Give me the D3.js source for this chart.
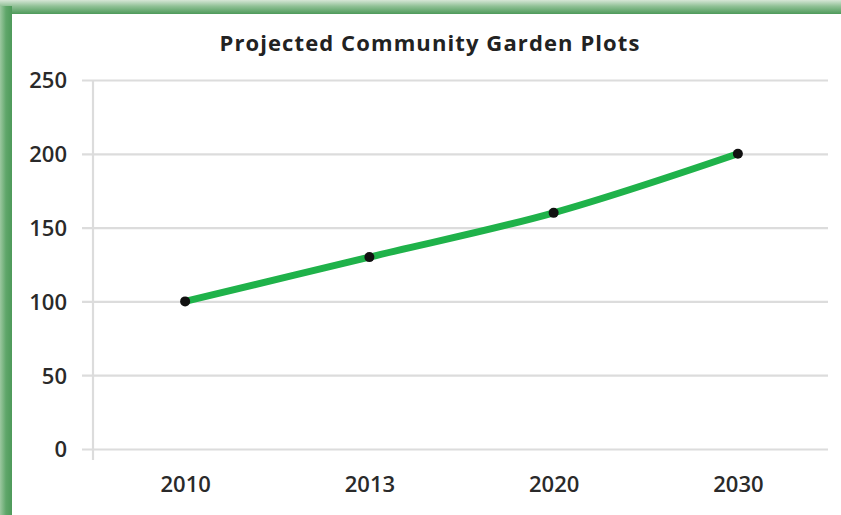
<!DOCTYPE html>
<html>
<head>
<meta charset="utf-8">
<script src="https://cdn.jsdelivr.net/npm/d3@7"></script>
<style>
  html, body { margin: 0; padding: 0; background: #fff; }
  svg { display: block; }
  text { font-family: "Open Sans", Lato, sans-serif; }
</style>
</head>
<body>
<svg id="chart" width="841" height="515"></svg>
<script>
// Chart data
const years = ["2010", "2013", "2020", "2030"];
const plots = [100, 130, 160, 200];
const yTicks = [0, 50, 100, 150, 200, 250];
const title = "Projected Community Garden Plots";

const svg = d3.select("#chart");
const W = 841, H = 515;
const margin = { top: 80, right: 11, bottom: 66, left: 93 };
const plotW = W - margin.left - margin.right;
const plotH = H - margin.top - margin.bottom;

// Green frame along the top and left edges
const defs = svg.append("defs");
const gTop = defs.append("linearGradient").attr("id", "frameTop")
  .attr("x1", 0).attr("y1", 0).attr("x2", 0).attr("y2", 1);
gTop.append("stop").attr("offset", "0%").attr("stop-color", "#d6e6d6");
gTop.append("stop").attr("offset", "45%").attr("stop-color", "#8fc095");
gTop.append("stop").attr("offset", "100%").attr("stop-color", "#4e9a5a");
const gLeft = defs.append("linearGradient").attr("id", "frameLeft")
  .attr("x1", 0).attr("y1", 0).attr("x2", 1).attr("y2", 0);
gLeft.append("stop").attr("offset", "0%").attr("stop-color", "#9cc8a0");
gLeft.append("stop").attr("offset", "50%").attr("stop-color", "#5fa66a");
gLeft.append("stop").attr("offset", "100%").attr("stop-color", "#4e9a5a");

svg.append("rect").attr("x", 0).attr("y", 0).attr("width", W).attr("height", 14)
  .attr("fill", "url(#frameTop)");
svg.append("rect").attr("x", 0).attr("y", 6).attr("width", 12).attr("height", H - 6)
  .attr("fill", "url(#frameLeft)");

// Scales
const x = d3.scalePoint().domain(years).range([0, plotW]).padding(0.5);
const y = d3.scaleLinear().domain([0, 250]).range([plotH, 0]);

const g = svg.append("g").attr("transform", `translate(${margin.left},${margin.top})`);

// Horizontal gridlines (extend left as tick marks)
g.append("g")
  .call(d3.axisLeft(y).tickValues(yTicks).tickSize(-plotW - 11).tickFormat(""))
  .call(s => s.select(".domain").remove())
  .call(s => s.selectAll(".tick line")
    .attr("x1", -11).attr("x2", plotW - 2)
    .attr("stroke", "#dcdcdc").attr("stroke-width", 2.2));

// Y tick labels
g.append("g")
  .call(d3.axisLeft(y).tickValues(yTicks).tickSize(0).tickPadding(26))
  .call(s => s.select(".domain").remove())
  .call(s => s.selectAll("text")
    .attr("font-size", 22).attr("font-weight", 600)
    .attr("fill", "#2a2a2a").attr("dy", "0.36em"));

// Vertical axis line
g.append("line")
  .attr("x1", 0).attr("x2", 0).attr("y1", 0).attr("y2", plotH + 11)
  .attr("stroke", "#dcdcdc").attr("stroke-width", 2.2);

// X axis labels
g.append("g")
  .attr("transform", `translate(0,${plotH})`)
  .call(d3.axisBottom(x).tickSize(0).tickPadding(32))
  .call(s => s.select(".domain").remove())
  .call(s => s.selectAll("text")
    .attr("font-size", 22).attr("font-weight", 600)
    .attr("fill", "#2a2a2a").attr("dy", "0.5em"));

// Smoothed line
const line = d3.line()
  .x((d, i) => x(years[i]))
  .y(d => y(d))
  .curve(d3.curveCatmullRom.alpha(0.5));

g.append("path")
  .datum(plots)
  .attr("d", line)
  .attr("fill", "none")
  .attr("stroke", "#1fb24a")
  .attr("stroke-width", 7)
  .attr("stroke-linecap", "round");

// Markers
g.selectAll("circle.pt")
  .data(plots)
  .join("circle")
  .attr("class", "pt")
  .attr("cx", (d, i) => x(years[i]))
  .attr("cy", d => y(d))
  .attr("r", 5)
  .attr("fill", "#111");

// Title
svg.append("text")
  .attr("x", 430).attr("y", 51)
  .attr("text-anchor", "middle")
  .attr("font-size", 22)
  .attr("font-weight", "bold")
  .attr("letter-spacing", 1.1)
  .attr("fill", "#222")
  .text(title);
</script>
</body>
</html>
